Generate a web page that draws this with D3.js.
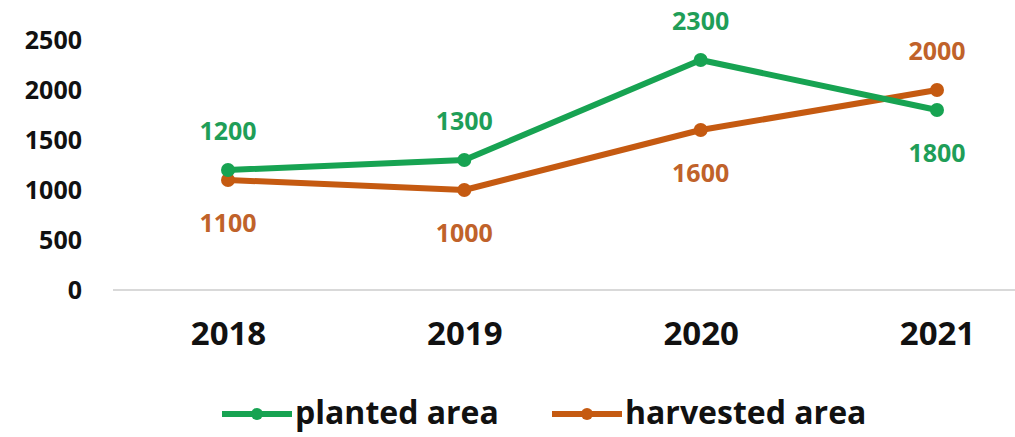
<!DOCTYPE html>
<html lang="en">
<head>
  <meta charset="UTF-8">
  <title>Planted vs harvested area</title>
  <style>
    body { margin: 0; background: #fff; }
    svg { display: block; font-family: "Open Sans", sans-serif; font-weight: bold; }
  </style>
  <script src="https://cdn.jsdelivr.net/npm/d3@7"></script>
</head>
<body>
  <div class="main"></div>

  <script>

  var years = ["2018", "2019", "2020", "2021"];
  var planted = [1200, 1300, 2300, 1800];
  var harvested = [1100, 1000, 1600, 2000];
  var yTicks = [0, 500, 1000, 1500, 2000, 2500];
  var seriesNames = ["planted area", "harvested area"];

  // label above (-1) or below (+1) each point
  var plantedPos = [-1, -1, -1, 1];
  var harvestedPos = [1, 1, 1, -1];

  var width = 1015,
      height = 437;

  var green = "#17a352",
      orange = "#c55a11";

  var x = d3.scalePoint()
      .domain(years)
      .range([228, 937]);

  var y = d3.scaleLinear()
      .domain([0, 2500])
      .range([290, 40]);

  var svg = d3.select(".main").append("svg")
      .attr("width", width)
      .attr("height", height);

  // baseline
  svg.append("line")
      .attr("x1", 113).attr("x2", width)
      .attr("y1", y(0)).attr("y2", y(0))
      .attr("stroke", "#d9d9d9")
      .attr("stroke-width", 2);

  // y axis labels
  var yAxis = svg.append("g")
      .attr("transform", "translate(82,0)")
      .call(d3.axisLeft(y).tickValues(yTicks).tickFormat(d3.format("d")).tickSize(0).tickPadding(0));
  yAxis.select(".domain").remove();
  yAxis.selectAll("text")
      .attr("font-family", "Open Sans, sans-serif")
      .attr("font-weight", "bold")
      .attr("font-size", 25)
      .attr("fill", "#111");

  // x axis labels
  var xAxis = svg.append("g")
      .attr("transform", "translate(0,322)")
      .call(d3.axisBottom(x).tickSize(0).tickPadding(0));
  xAxis.select(".domain").remove();
  xAxis.selectAll("text")
      .attr("font-family", "Open Sans, sans-serif")
      .attr("font-weight", "bold")
      .attr("font-size", 33)
      .attr("fill", "#111");

  var line = d3.line()
      .x(function(d, i) { return x(years[i]); })
      .y(function(d) { return y(d); });

  var series = [
    { name: seriesNames[0], values: planted, pos: plantedPos, color: green, text: "#1f9e58" },
    { name: seriesNames[1], values: harvested, pos: harvestedPos, color: orange, text: "#c0622a" }
  ];

  series.slice().reverse().forEach(function(s) {
    svg.append("path")
        .datum(s.values)
        .attr("d", line)
        .attr("fill", "none")
        .attr("stroke", s.color)
        .attr("stroke-width", 6)
        .attr("stroke-linejoin", "round");

    svg.selectAll(null)
        .data(s.values)
      .enter().append("circle")
        .attr("cx", function(d, i) { return x(years[i]); })
        .attr("cy", function(d) { return y(d); })
        .attr("r", 7)
        .attr("fill", s.color);

    svg.selectAll(null)
        .data(s.values)
      .enter().append("text")
        .attr("x", function(d, i) { return x(years[i]); })
        .attr("y", function(d, i) { return y(d) + (s.pos[i] < 0 ? -39 : 43); })
        .attr("dy", "0.36em")
        .attr("text-anchor", "middle")
        .attr("font-size", 25)
        .attr("fill", s.text)
        .text(function(d) { return d; });
  });

  // legend
  var legendX = [222, 552];
  series.forEach(function(s, i) {
    var g = svg.append("g")
        .attr("transform", "translate(" + legendX[i] + ",414)");
    g.append("line")
        .attr("x1", 0).attr("x2", 70)
        .attr("stroke", s.color)
        .attr("stroke-width", 6);
    g.append("circle")
        .attr("cx", 35)
        .attr("r", 6)
        .attr("fill", s.color);
    g.append("text")
        .attr("x", 73)
        .attr("dy", "0.3em")
        .attr("font-size", 32)
        .attr("fill", "#111")
        .text(s.name);
  });

  </script>
</body>
</html>
